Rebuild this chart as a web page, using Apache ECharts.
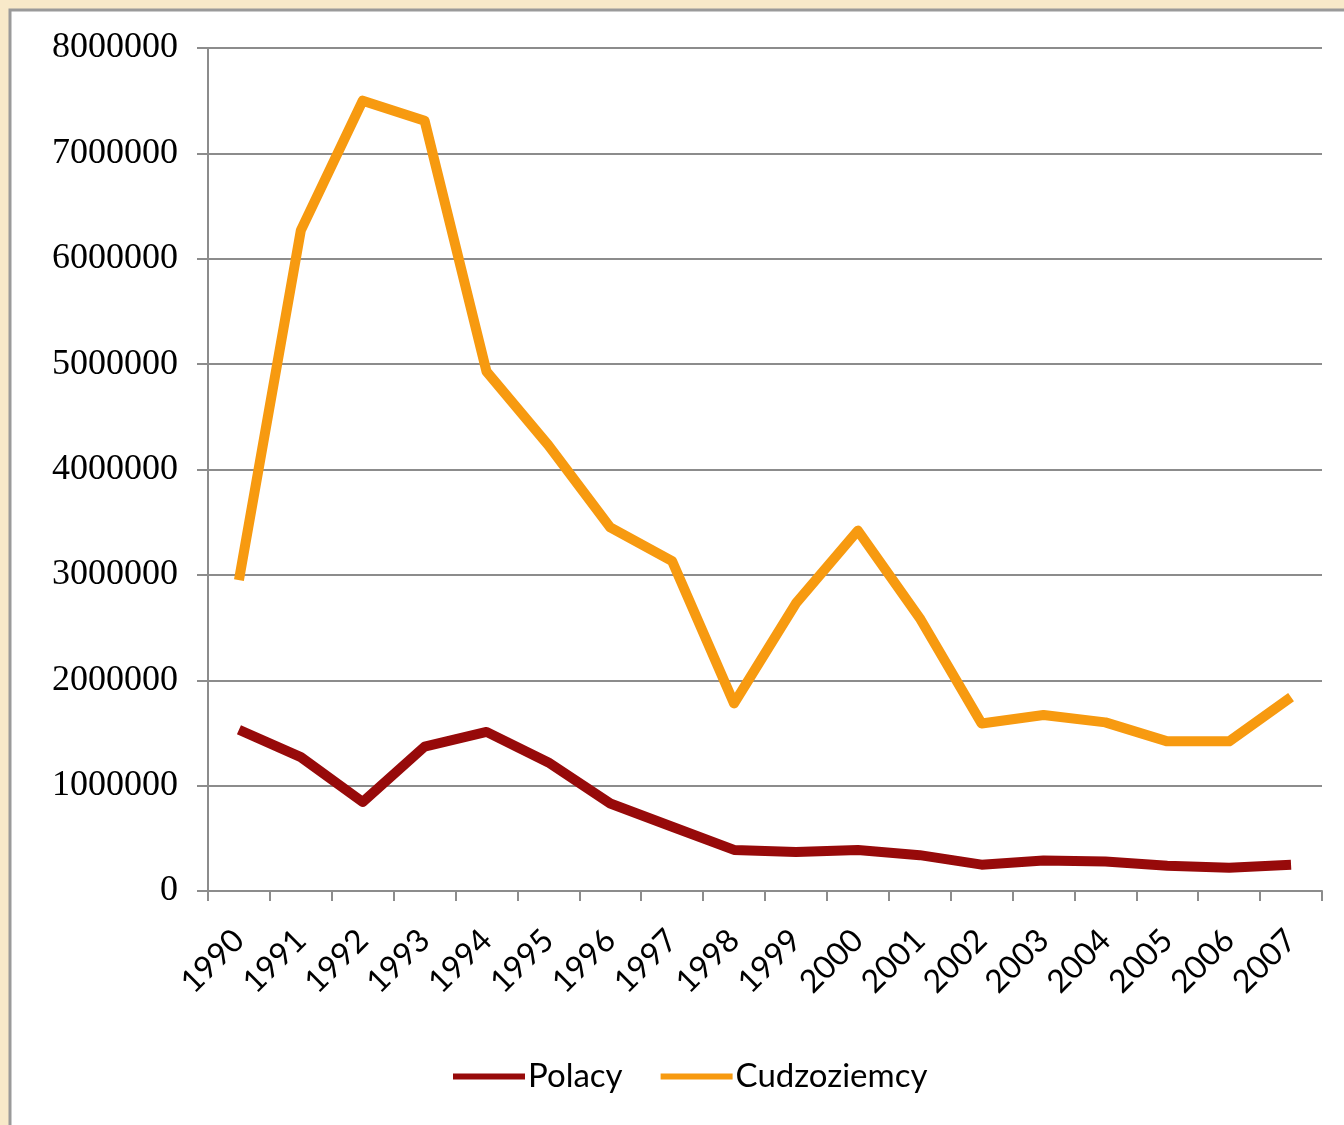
<!DOCTYPE html>
<html>
<head>
<meta charset="utf-8">
<script src="https://cdn.jsdelivr.net/npm/echarts@6/dist/echarts.min.js"></script>
<style>
  html, body { margin: 0; padding: 0; background: #F8E9C9; }
  #chart { width: 1344px; height: 1125px; }
</style>
</head>
<body>
<div id="chart"></div>
<script>
// Years on the category axis
const years = ['1990','1991','1992','1993','1994','1995','1996','1997','1998',
               '1999','2000','2001','2002','2003','2004','2005','2006','2007'];

// Number of people per year
const polacy = [1530000, 1270000, 845000, 1370000, 1510000, 1220000, 830000, 610000, 390000,
                370000, 390000, 340000, 250000, 290000, 280000, 240000, 220000, 250000];
const cudzoziemcy = [2950000, 6270000, 7500000, 7310000, 4930000, 4230000, 3450000, 3130000, 1780000,
                     2730000, 3420000, 2590000, 1590000, 1670000, 1600000, 1420000, 1420000, 1840000];

// Value axis ticks
const yTicks = [0, 1000000, 2000000, 3000000, 4000000, 5000000, 6000000, 7000000, 8000000];

const chart = echarts.init(document.getElementById('chart'), null, { renderer: 'canvas' });

const gridColor = '#8C8C8C';

chart.setOption({
  backgroundColor: '#F8E9C9',
  animation: false,
  graphic: [{
    type: 'rect',
    z: -10,
    shape: { x: 10, y: 10, width: 1400, height: 1200 },
    style: { fill: '#FFFFFF', stroke: '#9A9A9A', lineWidth: 3 }
  }],
  grid: { left: 208, right: 22, top: 48, bottom: 234 },
  legend: {
    bottom: 27,
    left: 448,
    icon: 'rect',
    itemWidth: 72,
    itemHeight: 6,
    itemGap: 38,
    textStyle: { fontFamily: 'Lato', fontSize: 33, color: '#000', padding: [0, 0, 0, -2] },
    data: ['Polacy', 'Cudzoziemcy']
  },
  xAxis: {
    type: 'category',
    data: years,
    boundaryGap: true,
    axisLine: { lineStyle: { color: gridColor, width: 2 } },
    axisTick: { show: true, length: 10, alignWithLabel: false, lineStyle: { color: gridColor, width: 2 } },
    axisLabel: {
      rotate: 45,
      margin: 44,
      fontFamily: 'Lato',
      fontSize: 32,
      color: '#000',
      interval: 0
    },
    splitLine: { show: false }
  },
  yAxis: {
    type: 'value',
    min: 0,
    max: 8000000,
    interval: 1000000,
    axisLine: { show: true, lineStyle: { color: gridColor, width: 2 } },
    axisTick: { show: true, length: 11, lineStyle: { color: gridColor, width: 2 } },
    axisLabel: {
      margin: 30,
      fontFamily: 'Liberation Serif',
      fontSize: 36,
      color: '#000',
      customValues: yTicks,
      formatter: v => String(v)
    },
    splitLine: { show: true, lineStyle: { color: gridColor, width: 2 } }
  },
  series: [
    {
      name: 'Polacy',
      type: 'line',
      data: polacy,
      symbol: 'none',
      color: '#970A0A',
      lineStyle: { width: 10, color: '#970A0A', join: 'round' }
    },
    {
      name: 'Cudzoziemcy',
      type: 'line',
      data: cudzoziemcy,
      symbol: 'none',
      color: '#F79A10',
      lineStyle: { width: 10, color: '#F79A10', join: 'round' }
    }
  ]
});
</script>
</body>
</html>
